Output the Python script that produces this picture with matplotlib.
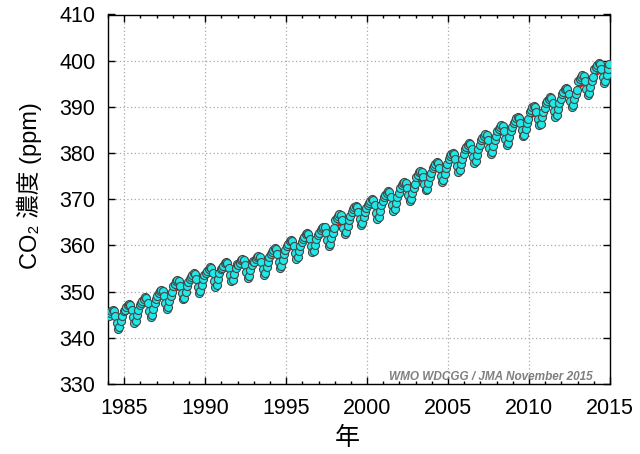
import numpy as np
import matplotlib
matplotlib.use('Agg')
import matplotlib.pyplot as plt
from matplotlib.ticker import MultipleLocator

plt.rcParams['font.family'] = ['Liberation Sans', 'Noto Sans CJK JP', 'DejaVu Sans']

# monthly global mean CO2 (ppm), Jan 1984 .. Dec 2014
years = list(range(1984, 2015))
co2_monthly = [
    344.8, 345.3, 345.8, 346.1, 345.9, 344.8, 343.2, 341.9, 342.3, 343.6, 344.8, 345.7,
    346.1, 346.6, 347.1, 347.4, 347.2, 346.1, 344.5, 343.2, 343.6, 344.9, 346.1, 347.0,
    347.5, 348.0, 348.5, 348.8, 348.6, 347.5, 345.9, 344.6, 345.0, 346.3, 347.5, 348.4,
    349.1, 349.6, 350.1, 350.4, 350.2, 349.1, 347.5, 346.2, 346.6, 347.9, 349.1, 350.0,
    351.2, 351.7, 352.2, 352.5, 352.3, 351.2, 349.6, 348.3, 348.7, 350.0, 351.2, 352.1,
    352.7, 353.2, 353.7, 354.0, 353.8, 352.7, 351.1, 349.8, 350.2, 351.5, 352.7, 353.6,
    354.0, 354.5, 355.0, 355.3, 355.1, 354.0, 352.4, 351.1, 351.5, 352.8, 354.0, 354.9,
    355.1, 355.6, 356.1, 356.4, 356.2, 355.1, 353.5, 352.2, 352.6, 353.9, 355.1, 356.0,
    355.8, 356.3, 356.8, 357.1, 356.9, 355.8, 354.2, 352.9, 353.3, 354.6, 355.8, 356.7,
    356.5, 357.0, 357.5, 357.8, 357.6, 356.5, 354.9, 353.6, 354.0, 355.3, 356.5, 357.4,
    358.1, 358.6, 359.1, 359.4, 359.2, 358.1, 356.5, 355.2, 355.6, 356.9, 358.1, 359.0,
    359.9, 360.4, 360.9, 361.2, 361.0, 359.9, 358.3, 357.0, 357.4, 358.7, 359.9, 360.8,
    361.4, 361.9, 362.4, 362.7, 362.5, 361.4, 359.8, 358.5, 358.9, 360.2, 361.4, 362.3,
    362.8, 363.3, 363.8, 364.1, 363.9, 362.8, 361.2, 359.9, 360.3, 361.6, 362.8, 363.7,
    365.4, 365.9, 366.4, 366.7, 366.5, 365.4, 363.8, 362.5, 362.9, 364.2, 365.4, 366.3,
    367.3, 367.8, 368.3, 368.6, 368.4, 367.3, 365.7, 364.4, 364.8, 366.1, 367.3, 368.2,
    368.7, 369.2, 369.7, 370.0, 369.8, 368.7, 367.1, 365.8, 366.2, 367.5, 368.7, 369.6,
    370.4, 370.9, 371.4, 371.7, 371.5, 370.4, 368.8, 367.5, 367.9, 369.2, 370.4, 371.3,
    372.5, 373.0, 373.5, 373.8, 373.6, 372.5, 370.9, 369.6, 370.0, 371.3, 372.5, 373.4,
    374.8, 375.3, 375.8, 376.1, 375.9, 374.8, 373.2, 371.9, 372.3, 373.6, 374.8, 375.7,
    376.7, 377.2, 377.7, 378.0, 377.8, 376.7, 375.1, 373.8, 374.2, 375.5, 376.7, 377.6,
    378.8, 379.3, 379.8, 380.1, 379.9, 378.8, 377.2, 375.9, 376.3, 377.6, 378.8, 379.7,
    380.8, 381.3, 381.8, 382.1, 381.9, 380.8, 379.2, 377.9, 378.3, 379.6, 380.8, 381.7,
    382.8, 383.3, 383.8, 384.1, 383.9, 382.8, 381.2, 379.9, 380.3, 381.6, 382.8, 383.7,
    384.7, 385.2, 385.7, 386.0, 385.8, 384.7, 383.1, 381.8, 382.2, 383.5, 384.7, 385.6,
    386.5, 387.0, 387.5, 387.8, 387.6, 386.5, 384.9, 383.6, 384.0, 385.3, 386.5, 387.4,
    388.9, 389.4, 389.9, 390.2, 390.0, 388.9, 387.3, 386.0, 386.4, 387.7, 388.9, 389.8,
    390.8, 391.3, 391.8, 392.1, 391.9, 390.8, 389.2, 387.9, 388.3, 389.6, 390.8, 391.7,
    392.8, 393.3, 393.8, 394.1, 393.9, 392.8, 391.2, 389.9, 390.3, 391.6, 392.8, 393.7,
    395.5, 396.0, 396.5, 396.8, 396.6, 395.5, 393.9, 392.6, 393.0, 394.3, 395.5, 396.4,
    398.1, 398.6, 399.1, 399.4, 399.2, 398.1, 396.5, 395.2, 395.6, 396.9, 398.1, 399.3,
]

# deseasonalised trend at the start of each year, 1984.0 .. 2015.0
trend_years = list(range(1984, 2016))
co2_trend = [
    343.9, 345.2, 346.5, 348.0, 349.9, 351.7, 353.1, 354.3, 355.2, 355.9, 357.0,
    358.7, 360.4, 361.8, 363.8, 366.1, 367.7, 369.3, 371.2, 373.4, 375.5, 377.5,
    379.5, 381.5, 383.5, 385.3, 387.4, 389.6, 391.5, 393.9, 396.5, 399.0,
]

months = np.arange(12)
x_month = (np.array(years)[:, None] + (months[None, :] + 0.5) / 12).ravel()

fig = plt.figure(figsize=(6.4, 4.54), dpi=100)
ax = fig.add_axes([108/640, 1 - 384/454, 502/640, 369.5/454])

ax.plot(trend_years, co2_trend, color='red', lw=1.6, zorder=2)
ax.plot(x_month, co2_monthly, ls='none', marker='o', ms=5.8,
        mfc='#1ee8e8', mec='#464646', mew=0.8, zorder=3)

ax.set_xlim(1984, 2015)
ax.set_ylim(330, 410)
ax.xaxis.set_major_locator(MultipleLocator(5))
ax.xaxis.set_minor_locator(MultipleLocator(1))
ax.yaxis.set_major_locator(MultipleLocator(10))

ax.tick_params(which='both', direction='in', top=True, right=True, labelsize=15.5)
ax.tick_params(which='major', length=5, width=1)
ax.tick_params(which='minor', length=2.5, width=1)
ax.tick_params(axis='x', pad=10)
ax.tick_params(axis='y', pad=9)
for s in ax.spines.values():
    s.set_linewidth(1.0)

ax.grid(True, which='major', color='#a8a8a8', ls=(0, (1, 2)), lw=0.9)

ax.text(2013.9, 331.6, 'WMO WDCGG / JMA November 2015', ha='right', va='center',
        fontsize=8.5, style='italic', weight='bold', color='#7f7f7f')

fig.text(29/640, 1 - 186/454, 'CO₂ 濃度 (ppm)', rotation=90, ha='center', va='center',
         fontsize=17)
fig.text(347/640, 1 - 438/454, '年', ha='center', va='center', fontsize=18,
         family=['Noto Sans CJK JP', 'DejaVu Sans'])

fig.savefig('out.png', dpi=100)
